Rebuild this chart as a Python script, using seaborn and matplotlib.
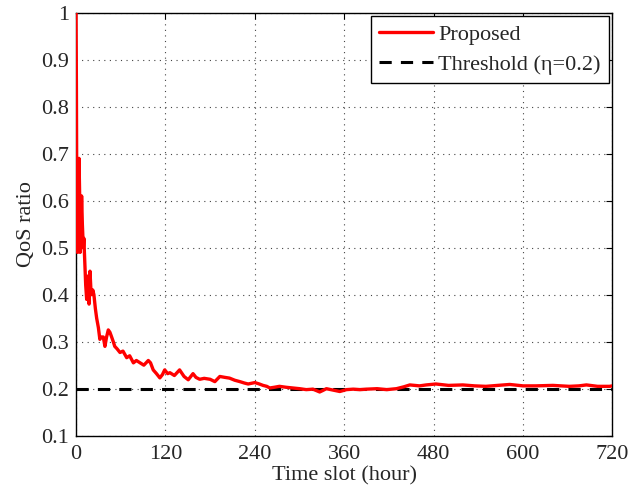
import numpy as np
import pandas as pd
import matplotlib
matplotlib.use("Agg")
import matplotlib.pyplot as plt
import seaborn as sns

hours = [0, 0.5, 1, 1.5, 2, 3, 4, 5, 5.5, 6.5, 7.5, 8.5, 9.8, 10.5, 12, 13, 14.3, 15.5, 16.5, 17.5, 18.75, 20, 21, 22.5, 24, 26, 27.7, 30, 32, 34, 36.6, 38.8, 41, 43.3, 45.5, 47.8, 50, 52, 55, 59, 63, 68, 72, 77, 81, 86, 91, 97, 100, 103.6, 108, 112.5, 116, 119, 123, 126, 132, 139, 145, 150.6, 157, 161, 166, 172, 180, 186.3, 193, 200, 206, 213, 220, 226, 231, 240, 246, 251, 256, 260, 266, 273, 282, 291, 300, 309, 318, 327, 331, 336, 345, 354, 363, 372, 381, 390, 404, 417, 430, 440, 448, 461, 470, 483, 500, 519, 535, 550, 566, 582, 600, 617, 640, 662, 675, 685, 700, 716, 720]
qos = [1.0, 0.85, 0.62, 0.5, 0.49, 0.53, 0.69, 0.6, 0.49, 0.52, 0.61, 0.55, 0.5, 0.52, 0.46, 0.42, 0.39, 0.42, 0.44, 0.38, 0.45, 0.41, 0.4, 0.41, 0.4, 0.37, 0.35, 0.33, 0.305, 0.31, 0.31, 0.29, 0.31, 0.325, 0.32, 0.31, 0.3, 0.29, 0.285, 0.277, 0.28, 0.266, 0.27, 0.255, 0.26, 0.255, 0.25, 0.26, 0.255, 0.24, 0.232, 0.223, 0.23, 0.24, 0.232, 0.234, 0.228, 0.24, 0.226, 0.219, 0.232, 0.224, 0.22, 0.222, 0.22, 0.215, 0.226, 0.224, 0.2225, 0.218, 0.215, 0.212, 0.21, 0.213, 0.21, 0.207, 0.205, 0.2015, 0.203, 0.205, 0.203, 0.2015, 0.2, 0.198, 0.199, 0.193, 0.196, 0.2, 0.197, 0.194, 0.198, 0.199, 0.198, 0.199, 0.2, 0.198, 0.2, 0.204, 0.208, 0.206, 0.208, 0.21, 0.207, 0.208, 0.206, 0.205, 0.207, 0.209, 0.206, 0.206, 0.207, 0.205, 0.206, 0.208, 0.205, 0.205, 0.206]
threshold = 0.2
xticks = [0, 120, 240, 360, 480, 600, 720]
yticks = [0.1, 0.2, 0.3, 0.4, 0.5, 0.6, 0.7, 0.8, 0.9, 1.0]
ytick_labels = ["0.1", "0.2", "0.3", "0.4", "0.5", "0.6", "0.7", "0.8", "0.9", "1"]

sns.set_theme(style="white")
plt.rcParams["font.family"] = ["Liberation Serif", "DejaVu Serif"]

fig = plt.figure(figsize=(6.33, 4.96), dpi=100)
ax = fig.add_axes([0.1201, 0.1216, 0.8475, 0.8528])

df = pd.DataFrame({"hour": hours, "qos": qos})
sns.lineplot(data=df, x="hour", y="qos", ax=ax, color="#ff0000", linewidth=2.4,
             label="Proposed", estimator=None, sort=False, zorder=3)
dft = pd.DataFrame({"hour": [0, 720], "qos": [threshold, threshold]})
sns.lineplot(data=dft, x="hour", y="qos", ax=ax, color="black", linewidth=2.2,
             linestyle=(0, (4, 3)), label="Threshold (\u03b7=0.2)", estimator=None,
             zorder=2.8)

ax.set_xlim(0, 720)
ax.set_ylim(0.1, 1.0)
ax.set_xticks(xticks)
ax.set_yticks(yticks)
ax.set_yticklabels(ytick_labels)
ax.grid(True, linestyle=(0, (1, 4)), color="#444444", linewidth=0.8)
ax.tick_params(direction="in", length=4, width=0.8, top=True, right=True,
               labelsize=16, color="black")
ax.tick_params(axis="x", pad=7)
ax.tick_params(axis="y", pad=5)
for s in ax.spines.values():
    s.set_color("black")
    s.set_linewidth(1.0)
ax.set_xlabel("Time slot (hour)", fontsize=16, labelpad=1)
ax.set_ylabel("QoS ratio", fontsize=16, labelpad=4)

leg = ax.legend(loc="upper right", fontsize=16, frameon=True, fancybox=False,
                edgecolor="black", handlelength=2.4, borderpad=0.38,
                labelspacing=0.42, handletextpad=0.25, borderaxespad=0.15)
leg.get_frame().set_linewidth(1.0)
leg.get_frame().set_alpha(1)

fig.savefig("out.png", dpi=100)
